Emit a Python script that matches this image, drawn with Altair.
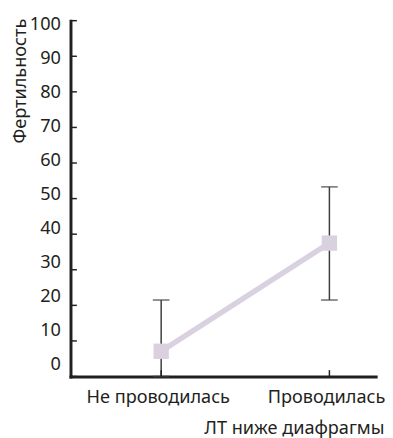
import altair as alt
import pandas as pd

categories = ["Не проводилась", "Проводилась"]
fertility = [7.1, 37.5]
err_low = [0.0, 21.5]
err_high = [21.5, 53.3]
y_ticks = [0, 10, 20, 30, 40, 50, 60, 70, 80, 90, 100]
y_tick_labels = ["0", "10", "20", "30", "40", "50", "60", "70", "80", "90", "100"]

W, H = 311.5, 363.2
INK = "#231f20"
BAR = "#3c3c3c"
LAV = "#d9d0e0"
FONT = "Noto Sans"
FS = 18.5

df = pd.DataFrame({"group": categories, "value": fertility, "lo": err_low, "hi": err_high})
ticks_df = pd.DataFrame({"v": y_ticks, "label": y_tick_labels})

xscale = alt.Scale(type="point", domain=categories, padding=0.407, align=0.662)
yscale = alt.Scale(domain=[0, 100], nice=False, zero=False)

x_axis = alt.Axis(
    title="ЛТ ниже диафрагмы", ticks=False, tickSize=0, grid=False,
    labelPadding=27, labelBaseline="alphabetic", labelAngle=0, labelOffset=-3.5,
    labelFont=FONT, labelFontSize=FS, labelColor=INK,
    domainWidth=3, domainColor=INK, domainCap="square",
    titleX=320, titleY=58, titleAlign="right", titleBaseline="alphabetic",
    titleFont=FONT, titleFontSize=FS, titleFontWeight="normal", titleColor=INK,
)
y_axis = alt.Axis(
    title="Фертильность", labels=False, ticks=False, tickSize=0, grid=False,
    domainWidth=3, domainColor=INK, domainCap="square",
    titleX=-52.3, titleY=-2.5, titleAlign="right", titleBaseline="middle",
    titleFont=FONT, titleFontSize=FS, titleFontWeight="normal", titleColor=INK,
)

base = alt.Chart(df)
X = alt.X("group:N", scale=xscale, sort=categories, axis=x_axis)

err = base.mark_rule(color=BAR, strokeWidth=1.5).encode(
    x=X, y=alt.Y("lo:Q", scale=yscale, axis=y_axis), y2="hi:Q"
)
cap_hi = base.mark_tick(color=BAR, thickness=1.6, size=17).encode(
    x=X, y=alt.Y("hi:Q", scale=yscale)
)
cap_lo = base.mark_tick(color=BAR, thickness=1.6, size=17).encode(
    x=X, y=alt.Y("lo:Q", scale=yscale)
)
line = base.mark_line(color=LAV, strokeWidth=5.5).encode(
    x=X, y=alt.Y("value:Q", scale=yscale)
)
squares = base.mark_square(color=LAV, size=245, opacity=1).encode(
    x=X, y=alt.Y("value:Q", scale=yscale)
)
y_tick_marks = alt.Chart(ticks_df).mark_rule(color=INK, strokeWidth=1.5).encode(
    y=alt.Y("v:Q", scale=yscale), x=alt.value(0), x2=alt.value(6.5)
)
x_tick_marks = base.mark_rule(color=INK, strokeWidth=1.5).encode(
    x=X, y=alt.value(H), y2=alt.value(H - 6.5)
)

main = alt.layer(err, cap_hi, cap_lo, line, squares, y_tick_marks, x_tick_marks)

labels = alt.Chart(ticks_df).mark_text(
    align="right", baseline="middle", font=FONT, fontSize=FS, color=INK
).encode(
    y=alt.Y("v:Q", scale=alt.Scale(domain=[-3.52, 101.15], nice=False, zero=False), axis=None),
    x=alt.value(-9.8),
    text="label:N",
)

chart = alt.layer(main, labels).resolve_scale(y="independent").properties(
    width=W, height=H,
    autosize=alt.AutoSizeParams(type="none"),
    padding={"left": 63.8, "top": 8.5, "right": 9.5, "bottom": 58.3},
    background="white",
).configure_view(stroke=None)

chart.save("out.html", embed_options={"renderer": "svg", "actions": False})
